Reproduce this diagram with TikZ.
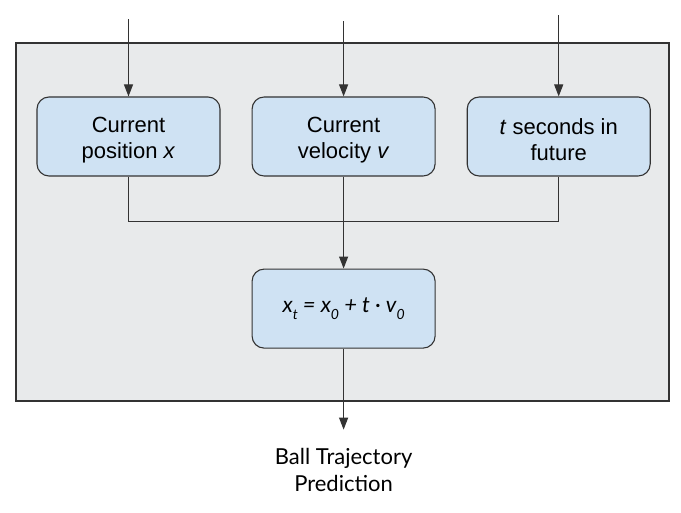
\documentclass[tikz,border=0pt]{standalone}
\usepackage{fontspec}
\setmainfont{Liberation Sans}
\newfontfamily\latofont{Lato}
\usetikzlibrary{arrows.meta,positioning}
\definecolor{boxblue}{HTML}{CFE2F3}
\definecolor{panelgrey}{HTML}{E8EAEB}
\definecolor{linegrey}{HTML}{333333}

\begin{document}
\begin{tikzpicture}[x=1pt, y=-1pt, node distance=31pt and 31pt,
		every node/.style={font=\fontsize{22}{26}\selectfont},
		inbox/.style={draw=linegrey, line width=1.1pt, fill=boxblue, rounded corners=12pt, minimum width=183pt, minimum height=79pt, align=center, inner sep=0pt},
		arr/.style={-{Triangle[length=12pt,width=9pt]}, line width=1.1pt, draw=linegrey},
		link/.style={line width=1.1pt, draw=linegrey}]
			\useasboundingbox (0,0) rectangle (681,513);
			\draw[draw=linegrey, line width=1.1pt, fill=panelgrey] (16,43) rectangle (669,401);
			
			\node[inbox] (pos) at (128.5,136.5) {\rule{0pt}{22pt}Current\\position \textit{x}};
			\node[inbox, right=of pos] (vel) {\rule{0pt}{22pt}Current\\velocity \textit{v}};
			\node[inbox, right=of vel] (time) {\rule{0pt}{22pt}\textit{t} seconds in\\future};
			\node[inbox, below=92pt of vel] (eq) {\latofont\itshape x\raisebox{-7pt}{\fontsize{14}{14}\selectfont t} = x\raisebox{-7pt}{\fontsize{14}{14}\selectfont 0} + t {\upshape·} v\raisebox{-7pt}{\fontsize{14}{14}\selectfont 0}};
			
			\coordinate[above=77pt of pos.north] (posin);
			\coordinate[above=75pt of vel.north] (velin);
			\coordinate[above=81pt of time.north] (timein);
			\coordinate[below=81pt of eq.south] (outend);
			
			\draw[arr] (posin) -- (pos);
			\draw[arr] (velin) -- (vel);
			\draw[arr] (timein) -- (time);
			
			\draw[link] (pos.south) -- ++(0,45) -| (time.south);
			\draw[arr] (vel.south) -- (eq.north);
			\draw[arr] (eq.south) -- (outend);
			
			\node[below=18pt of outend, align=center, inner sep=0pt, font=\latofont\fontsize{22}{27}\selectfont] (pred) {Ball Trajectory\\Prediction};
		\end{tikzpicture}
\end{document}
